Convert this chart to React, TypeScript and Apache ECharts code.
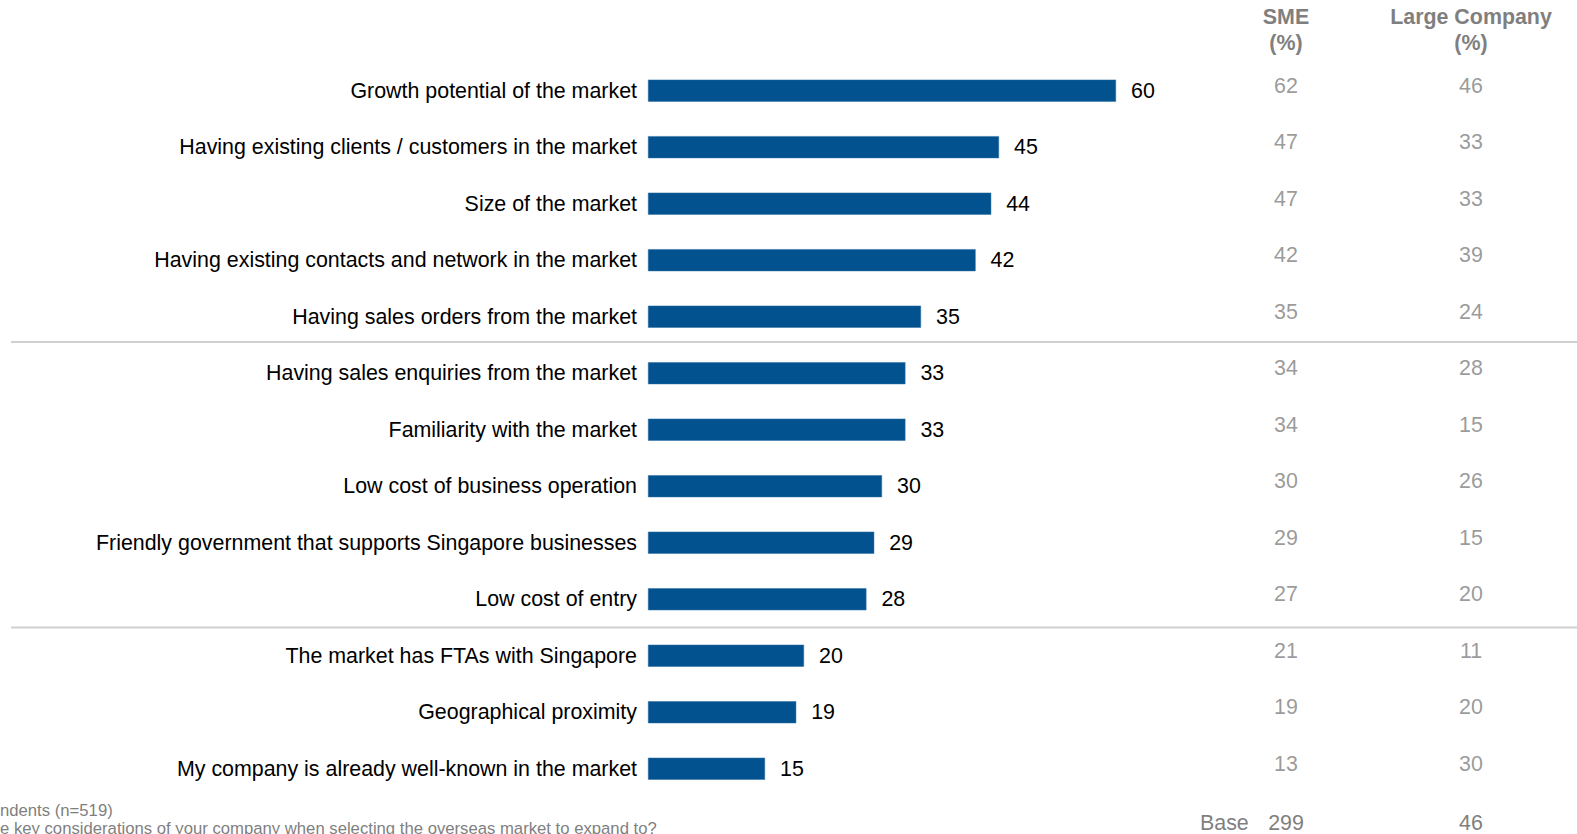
import React, { useEffect, useRef } from "react";
import * as echarts from "echarts";

const categories = [
  "Growth potential of the market",
  "Having existing clients / customers in the market",
  "Size of the market",
  "Having existing contacts and network in the market",
  "Having sales orders from the market",
  "Having sales enquiries from the market",
  "Familiarity with the market",
  "Low cost of business operation",
  "Friendly government that supports Singapore businesses",
  "Low cost of entry",
  "The market has FTAs with Singapore",
  "Geographical proximity",
  "My company is already well-known in the market",
];
const totalValues = [60, 45, 44, 42, 35, 33, 33, 30, 29, 28, 20, 19, 15];
const smeValues = [62, 47, 47, 42, 35, 34, 34, 30, 29, 27, 21, 19, 13];
const largeValues = [46, 33, 33, 39, 24, 28, 15, 26, 15, 20, 11, 20, 30];
const tableHeaders = ["SME\n(%)", "Large Company\n(%)"];
const baseValues = [299, 46];
const separatorAfter = [5, 10];
const footnotes = ["ndents (n=519)", "e key considerations of your company when selecting the overseas market to expand to?"];

const FONT = "'Liberation Sans', Arial, sans-serif";
const GREY = "#7f7f7f";
const FS = 21.4;

export default function App() {
  const ref = useRef<HTMLDivElement>(null);
  useEffect(() => {
    document.body.style.margin = "0";
    const chart = echarts.init(ref.current!, null, { renderer: "svg" });
    const top = 62.4;
    const height = 734.6;
    const band = height / categories.length;
    const sepNudge = [-3, 0];
    const option: any = {
      animation: false,
      textStyle: { fontFamily: FONT },
      grid: [
        { left: 648, top, width: 780, height },
        { left: 1193.5, top, width: 370, height },
      ],
      xAxis: [
        { gridIndex: 0, type: "value", min: 0, max: 100, show: false },
        {
          gridIndex: 1,
          type: "category",
          position: "top",
          data: tableHeaders,
          axisLine: { show: false },
          axisTick: { show: false },
          axisLabel: {
            interval: 0,
            margin: 6,
            fontSize: FS,
            fontWeight: "bold",
            color: GREY,
            lineHeight: 26,
            fontFamily: FONT,
          },
        },
        {
          gridIndex: 1,
          type: "category",
          position: "bottom",
          data: baseValues.map(String),
          axisLine: { show: false },
          axisTick: { show: false },
          axisLabel: { interval: 0, margin: 15, fontSize: FS, color: GREY, fontFamily: FONT },
        },
      ],
      yAxis: [
        {
          gridIndex: 0,
          type: "category",
          inverse: true,
          data: categories,
          axisLine: { show: false },
          axisTick: { show: false },
          axisLabel: { interval: 0, margin: 11, fontSize: FS, color: "#000", fontFamily: FONT },
        },
        {
          gridIndex: 1,
          type: "category",
          inverse: true,
          data: categories,
          show: false,
        },
      ],
      series: [
        {
          type: "bar",
          xAxisIndex: 0,
          yAxisIndex: 0,
          data: totalValues,
          barWidth: 22,
          itemStyle: { color: "#01528f", borderColor: "#2f6fa3", borderWidth: 0.5 },
          label: {
            show: true,
            position: "right",
            distance: 15,
            fontSize: FS,
            color: "#000",
            fontFamily: FONT,
          },
        },
        {
          type: "scatter",
          xAxisIndex: 1,
          yAxisIndex: 1,
          symbolSize: 0,
          data: smeValues.map((v, i) => [0, i, v]),
          label: {
            show: true,
            position: "inside",
            offset: [0, -5],
            fontSize: FS,
            color: GREY,
            fontFamily: FONT,
            formatter: (p: any) => String(p.value[2]),
          },
        },
        {
          type: "scatter",
          xAxisIndex: 1,
          yAxisIndex: 1,
          symbolSize: 0,
          data: largeValues.map((v, i) => [1, i, v]),
          label: {
            show: true,
            position: "inside",
            offset: [0, -5],
            fontSize: FS,
            color: GREY,
            fontFamily: FONT,
            formatter: (p: any) => String(p.value[2]),
          },
        },
      ],
      graphic: [
        ...separatorAfter.map((n, k) => ({
          type: "line",
          shape: { x1: 11, y1: top + n * band + sepNudge[k], x2: 1577, y2: top + n * band + sepNudge[k] },
          style: { stroke: "#d0d0d0", lineWidth: 2 },
        })),
        {
          type: "text",
          x: 1200,
          y: 823,
          style: { text: "Base", fill: GREY, font: `${FS}px ${FONT}`, verticalAlign: "middle" },
        },
        {
          type: "text",
          x: 0,
          y: 810,
          style: { text: footnotes[0], fill: GREY, font: `16.7px ${FONT}`, verticalAlign: "middle" },
        },
        {
          type: "text",
          x: 0,
          y: 828,
          style: { text: footnotes[1], fill: GREY, font: `16.7px ${FONT}`, verticalAlign: "middle" },
        },
      ],
    };
    chart.setOption(option);
    return () => chart.dispose();
  }, []);
  return (
    <div
      ref={ref}
      style={{ position: "absolute", left: 0, top: 0, width: "1577px", height: "834px", background: "#fff" }}
    />
  );
}
